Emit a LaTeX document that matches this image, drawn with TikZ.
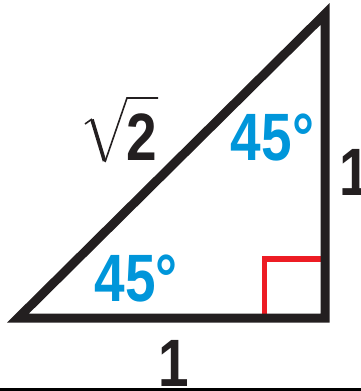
\documentclass[tikz,border=0pt]{standalone}
\usepackage{fontspec}
\setmainfont{Liberation Sans}
\definecolor{ink}{RGB}{35,31,32}
\definecolor{angred}{RGB}{237,28,36}
\definecolor{angblue}{RGB}{0,150,218}
\newcommand{\bigdig}[1]{\scalebox{0.82}[1]{\fontsize{67}{67}\selectfont\bfseries #1}}
\tikzset{
  lbl/.style={inner sep=0pt, outer sep=0pt, anchor=center},
  anglbl/.style={lbl, text=angblue},
  sidelbl/.style={lbl, text=ink},
  edge/.style={draw=ink, line width=9pt, line join=miter},
  rightmark/.style={draw=angred, line width=5.5pt},
  radical/.style={draw=ink, line width=1.6pt, line join=miter}
}
\begin{document}
\begin{tikzpicture}[x=1pt,y=-1pt]
\useasboundingbox (0,0) rectangle (361,391);
% right-angle mark
\coordinate (ra1) at (264.5,318);
\coordinate (ra2) at (264.5,259);
\coordinate (ra3) at (325,259);
\draw[rightmark] (ra1) -- (ra2) -- (ra3);
% triangle
\coordinate (A) at (18,318);
\coordinate (B) at (325,318);
\coordinate (C) at (325,14);
\draw[edge] (A) -- (B) -- (C) -- cycle;
% labels
\node[anglbl] (top45) at (272.5,137.5) {\bigdig{45°}};
\node[anglbl] (bot45) at (136,279) {\bigdig{45°}};
\node[sidelbl] (right1) at (355,172) {\bigdig{1}};
\node[sidelbl] (bottom1) at (174,363) {\bigdig{1}};
\node[sidelbl] (two) at (142,137.5) {\bigdig{2}};
% radical sign
\draw[radical] (85,124) -- (92,119);
\draw[draw=ink, line width=3.6pt] (92,119.5) -- (104.5,161);
\draw[radical] (105,162) -- (127,98) -- (158,98);
% bottom rule
\fill[black] (0,387.5) rectangle (361,391);
\end{tikzpicture}
\end{document}
